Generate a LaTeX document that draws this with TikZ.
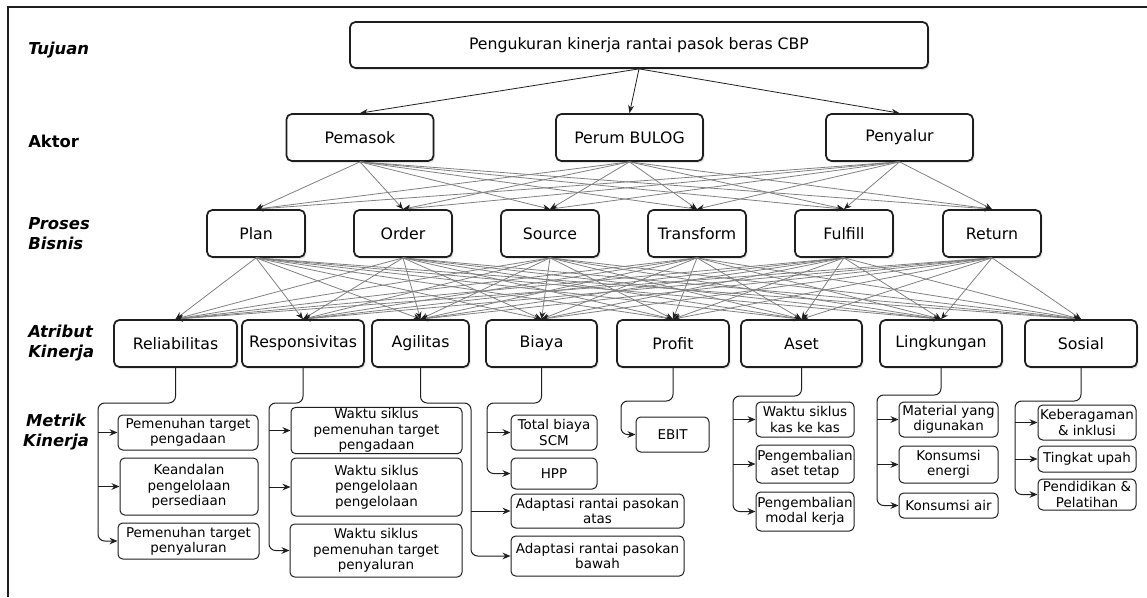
\documentclass[tikz,border=0pt]{standalone}
\usepackage{fontspec}
\setmainfont{DejaVu Sans}
\usepackage{xcolor}
\definecolor{garis}{RGB}{30,30,30}
\definecolor{abu}{RGB}{128,128,128}
\usepackage{tikz}
\usetikzlibrary{arrows.meta,shadows,calc}

\begin{document}
\begin{tikzpicture}[x=0.75pt,y=-0.75pt,
            kotak/.style={draw=garis, line width=1.3pt, rounded corners=4pt, fill=white,
                minimum height=35.25pt, font=\fontsize{11.8}{14}\selectfont,
                drop shadow={shadow xshift=1.2pt, shadow yshift=-1.5pt, opacity=0.2}},
            metrik/.style={draw=garis, line width=0.75pt, rounded corners=3.5pt, fill=white,
                align=center, inner xsep=0.5pt, inner ysep=1pt, font=\fontsize{10.1}{11.5}\selectfont},
            judul/.style={anchor=west, align=left, inner sep=0pt,
                font=\fontsize{12.3}{15}\selectfont\bfseries\itshape},
            panah/.style={draw=garis, line width=0.6pt, -{Stealth[length=6pt,width=4.5pt]}},
            cabang/.style={draw=abu, line width=0.6pt, -{Stealth[length=5.5pt,width=4.5pt,color=garis]}},
            bus/.style={draw=garis, line width=0.75pt, rounded corners=5pt, -{Stealth[length=6pt,width=5pt]}}]
            \useasboundingbox (0,0) rectangle (1147,597);
            \draw[garis, line width=1.1pt] (8,597) -- (8,7) -- (1147,7);

            \node[judul] (lTujuan) at (28,50) {Tujuan};
            \node[judul, font=\fontsize{12.3}{15}\selectfont\bfseries] (lAktor) at (28,141) {Aktor};
            \node[judul] (lProses) at (28,233.5) {Proses\\Bisnis};
            \node[judul] (lAtribut) at (28,343) {Atribut\\Kinerja};
            \node[judul, anchor=center, align=center] (lMetrik) at (56,432) {Metrik\\Kinerja};

            \node[kotak, minimum width=433.5pt, minimum height=34.5pt] (tujuan) at (639,45) {Pengukuran kinerja rantai pasok beras CBP};
            \node[kotak, minimum width=110.25pt] (pemasok) at (360,137.5) {Pemasok};
            \node[kotak, minimum width=110.25pt] (bulog) at (629.5,137.5) {Perum BULOG};
            \node[kotak, minimum width=110.25pt] (penyalur) at (899.5,137.5) {Penyalur};

            \foreach \n/\x/\t in {plan/256/Plan, order/403/Order, source/550/Source,
                    transform/697/Transform, fulfill/844/Fulfill, return/992/Return}
                \node[kotak, minimum width=73.5pt] (\n) at (\x,233.5) {\t};

            \foreach \n/\x/\w/\t in {rel/175.5/92.25pt/Reliabilitas, resp/303/91.5pt/Responsivitas,
                    agil/420.5/72.75pt/Agilitas, biaya/541.5/83.25pt/Biaya, profit/673/84pt/Profit,
                    aset/801.5/90.75pt/Aset, ling/941/91.5pt/Lingkungan, sos/1081/84pt/Sosial}
                \node[kotak, minimum width=\w] (\n) at (\x,343.5) {\t};

            \foreach \a in {pemasok,bulog,penyalur}
                \draw[panah] (tujuan.south) -- (\a.north);
            \foreach \a in {pemasok,bulog,penyalur}
                \foreach \p in {plan,order,source,transform,fulfill,return}
                    \draw[cabang] (\a.south) -- (\p.north);
            \foreach \p in {plan,order,source,transform,fulfill,return}
                \foreach \k in {rel,resp,agil,biaya,profit,aset,ling,sos}
                    \draw[cabang] (\p.south) -- (\k.north);

            \node[metrik, minimum width=105pt, minimum height=26.25pt] (m11) at (188,432.5) {Pemenuhan target\\pengadaan};
            \node[metrik, minimum width=103.5pt, minimum height=42.75pt] (m12) at (189,486.5) {Keandalan\\pengelolaan\\persediaan};
            \node[metrik, minimum width=105.75pt, minimum height=27pt] (m13) at (188.5,541) {Pemenuhan target\\penyaluran};
            \node[metrik, minimum width=128.25pt, minimum height=33.75pt] (m21) at (376.5,430.5) {Waktu siklus\\pemenuhan target\\pengadaan};
            \node[metrik, minimum width=128.25pt, minimum height=43.5pt] (m22) at (376.5,487) {Waktu siklus\\pengelolaan\\pengelolaan};
            \node[metrik, minimum width=129pt, minimum height=39.75pt] (m23) at (376,550.5) {Waktu siklus\\pemenuhan target\\penyaluran};
            \node[metrik, minimum width=129.75pt, minimum height=25.5pt] (m31) at (597.5,511) {Adaptasi rantai pasokan\\atas};
            \node[metrik, minimum width=129.75pt, minimum height=30pt] (m32) at (597.5,556) {Adaptasi rantai pasokan\\bawah};
            \node[metrik, minimum width=64.5pt, minimum height=26.25pt] (m41) at (554,432.5) {Total biaya\\SCM};
            \node[metrik, minimum width=64.5pt, minimum height=23.25pt] (m42) at (554,473.5) {HPP};
            \node[metrik, minimum width=54.75pt, minimum height=26.25pt] (m51) at (672.5,434.5) {EBIT};
            \node[metrik, minimum width=73.5pt, minimum height=26.25pt] (m61) at (805,419.5) {Waktu siklus\\kas ke kas};
            \node[metrik, minimum width=73.5pt, minimum height=28.5pt] (m62) at (805,464) {Pengembalian\\aset tetap};
            \node[metrik, minimum width=73.5pt, minimum height=29.25pt] (m63) at (805,511.5) {Pengembalian\\modal kerja};
            \node[metrik, minimum width=74.25pt, minimum height=26.25pt] (m71) at (948.5,419.5) {Material yang\\digunakan};
            \node[metrik, minimum width=74.25pt, minimum height=27.75pt] (m72) at (948.5,464.5) {Konsumsi\\energi};
            \node[metrik, minimum width=74.25pt, minimum height=18.75pt] (m73) at (948.5,505.5) {Konsumsi air};
            \node[metrik, minimum width=73.5pt, minimum height=26.25pt] (m81) at (1087,422.5) {Keberagaman\\\& inklusi};
            \node[metrik, minimum width=73.5pt, minimum height=19.5pt] (m82) at (1087,459) {Tingkat upah};
            \node[metrik, minimum width=73.5pt, minimum height=23.25pt] (m83) at (1087,494.5) {Pendidikan \&\\Pelatihan};

            \coordinate (bus1) at (98,403);
            \coordinate (bus2) at (269,403);
            \coordinate (bus3) at (471,403);
            \coordinate (bus4) at (487,403);
            \coordinate (bus5) at (621,401);
            \coordinate (bus6) at (733,396);
            \coordinate (bus7) at (877,395);
            \coordinate (bus8) at (1015,401);

            \draw[bus] (rel.south) |- (bus1) |- (m13.west);
            \draw[bus] (bus1 |- m11.west) -- (m11.west);
            \draw[bus] (bus1 |- m12.west) -- (m12.west);
            \draw[bus] (resp.south) |- (bus2) |- (m23.west);
            \draw[bus] (bus2 |- m21.west) -- (m21.west);
            \draw[bus] (bus2 |- m22.west) -- (m22.west);
            \draw[bus] (agil.south) |- (bus3) |- (m32.west);
            \draw[bus] (bus3 |- m31.west) -- (m31.west);
            \draw[bus] (biaya.south) |- (bus4) |- (m42.west);
            \draw[bus] (bus4 |- m41.west) -- (m41.west);
            \draw[bus] (profit.south) |- (bus5) |- (m51.west);
            \draw[bus] (aset.south) |- (bus6) |- (m63.west);
            \draw[bus] (bus6 |- m61.west) -- (m61.west);
            \draw[bus] (bus6 |- m62.west) -- (m62.west);
            \draw[bus] (ling.south) |- (bus7) |- (m73.west);
            \draw[bus] (bus7 |- m71.west) -- (m71.west);
            \draw[bus] (bus7 |- m72.west) -- (m72.west);
            \draw[bus] (sos.south) |- (bus8) |- (m83.west);
            \draw[bus] (bus8 |- m81.west) -- (m81.west);
            \draw[bus] (bus8 |- m82.west) -- (m82.west);
        \end{tikzpicture}
\end{document}
